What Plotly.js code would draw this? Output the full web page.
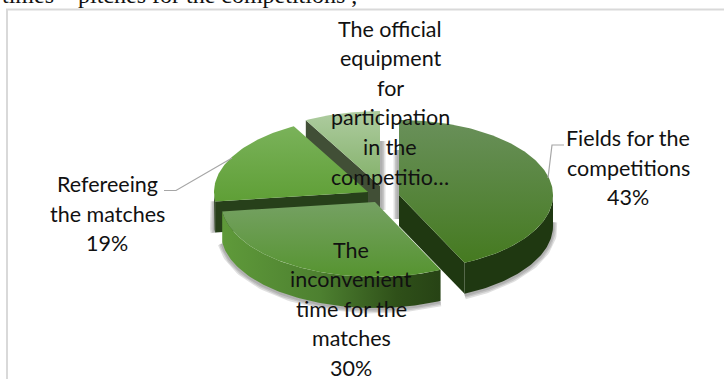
<!DOCTYPE html>
<html>
<head>
<meta charset="utf-8">
<script src="https://cdn.plot.ly/plotly-3.0.1.min.js"></script>
<style>html,body{margin:0;padding:0;background:#fff}#chart{width:724px;height:379px}</style>
</head>
<body>
<div id="chart"></div>
<script>
// Survey shares, clockwise from twelve o'clock
const sliceNames = ['Fields', 'Time', 'Referees', 'Equipment'];
const shares = [43, 30, 19, 8];

// Wrapped label text for each slice
const fieldLines = ['Fields for the', 'competitions'];
const timeLines = ['The', 'inconvenient', 'time for the', 'matches'];
const refereeLines = ['Refereeing', 'the matches'];
const equipmentLines = ['The official', 'equipment', 'for', 'participation', 'in the', 'competitio…'];
const headingText = 'times – pitches for the competitions ,';

// Pie proportions on the page
const RX = 154, RY = 75, DEPTH = 31;
const hubs = [[399, 195], [375, 202], [368, 192], [380, 186]];
const topFills = [
  ['#69905a', '#457a20'], ['#75a163', '#569430'],
  ['#7ab25a', '#5f9f36'], ['#aecca0', '#82b068']
];
const wallFill = ['#1f3811', '#263f14', '#27401a', '#414f36'];

// Angle of each slice boundary in radians, measured clockwise from the top
const total = shares.reduce((a, b) => a + b, 0);
let run = 0;
const bounds = shares.map(v => { const s = run; run += v; return [s / total * 2 * Math.PI, run / total * 2 * Math.PI]; });

function rim(hub, a, dy) {
  return [hub[0] + RX * Math.sin(a), hub[1] - RY * Math.cos(a) + (dy || 0)];
}
function arc(hub, a0, a1, dy) {
  const pts = [];
  const steps = Math.max(2, Math.ceil(Math.abs(a1 - a0) / 0.02));
  for (let i = 0; i <= steps; i++) pts.push(rim(hub, a0 + (a1 - a0) * i / steps, dy));
  return pts;
}
function polygon(pts, fill, gradient) {
  const tr = {
    type: 'scatter', mode: 'lines', fill: 'toself',
    x: pts.map(p => p[0]), y: pts.map(p => p[1]),
    line: { width: 0 }, hoverinfo: 'skip', showlegend: false
  };
  if (gradient) tr.fillgradient = gradient; else tr.fillcolor = fill;
  return tr;
}
function softEdge(pts) {
  return [9, 6, 3].map(w => ({
    type: 'scatter', mode: 'lines', x: pts.map(p => p[0]), y: pts.map(p => p[1]),
    line: { width: w, color: 'rgba(60,60,60,0.16)' }, hoverinfo: 'skip', showlegend: false
  }));
}
function vertical(c) {
  return { type: 'vertical', colorscale: [[0, c[1]], [1, c[0]]] };
}

// Extruded side of a slice: its cut edge and the part of its rim facing the viewer
function cutWall(i, a) {
  const h = hubs[i], e = rim(h, a);
  return polygon([h, e, [e[0], e[1] + DEPTH], [h[0], h[1] + DEPTH]], wallFill[i]);
}
function rimWall(i, a0, a1, gradient) {
  const h = hubs[i];
  return polygon(arc(h, a0, a1).concat(arc(h, a1, a0, DEPTH)), wallFill[i], gradient);
}
function topFace(i) {
  return polygon([hubs[i]].concat(arc(hubs[i], bounds[i][0], bounds[i][1])), null, vertical(topFills[i]));
}

const traces = [];
// soft shadow beneath the outer rims and beside the central gap
traces.push(...softEdge(arc(hubs[0], Math.PI * 0.48, bounds[0][1], DEPTH + 1)));
traces.push(...softEdge(arc(hubs[1], bounds[1][0], bounds[1][1], DEPTH + 1)));
traces.push(...softEdge(arc(hubs[2], bounds[2][0], bounds[2][0] + 0.05, DEPTH).concat([rim(hubs[2], bounds[2][0], 0)])));
traces.push(...softEdge([[hubs[3][0] + 1, hubs[3][1] - 45], [hubs[3][0] + 1, hubs[3][1] + 24]]));
traces.push(...softEdge([[hubs[0][0] - 1, hubs[0][1] - 45], [hubs[0][0] - 1, hubs[0][1] + 24]]));

// back to front: equipment, referees, fields, time
traces.push(cutWall(3, bounds[3][0]), topFace(3));
traces.push(cutWall(2, bounds[2][0]), rimWall(2, bounds[2][0], bounds[2][0] + 0.13), topFace(2));
traces.push(cutWall(0, bounds[0][1]), rimWall(0, Math.PI / 2, bounds[0][1]), topFace(0));
traces.push(rimWall(1, bounds[1][0], bounds[1][1], {
  type: 'horizontal', colorscale: [[0, '#5f9a3a'], [0.45, '#4d8030'], [0.8, '#2f5019'], [1, '#274315']]
}), topFace(1));

// leader lines
const leader = (xs, ys) => ({
  type: 'scatter', mode: 'lines', x: xs, y: ys,
  line: { width: 1.2, color: '#a6a6a6' }, hoverinfo: 'skip', showlegend: false
});
traces.push(leader([164, 176, 232], [190.5, 190.5, 158]));
traces.push(leader([564, 552, 548], [145, 145, 178]));

// one annotation per text line, so the wide line spacing can be kept
const FONT = 'Lato, "Open Sans", sans-serif';
const STEP = 29.6;
function labelBlock(lines, cx, firstY) {
  return lines.map((t, k) => ({
    text: t, x: cx, y: firstY + k * STEP, xref: 'x', yref: 'y', showarrow: false,
    xanchor: 'center', yanchor: 'middle',
    font: { family: FONT, size: 21.5, color: '#111' }
  }));
}
const annotations = [
  ...labelBlock(fieldLines.concat(shares[0] + '%'), 628, 138),
  ...labelBlock(timeLines.concat(shares[1] + '%'), 351, 249.5),
  ...labelBlock(refereeLines.concat(shares[2] + '%'), 107, 184),
  ...labelBlock(equipmentLines, 390, 28.5),
  { text: headingText, x: 0, y: 0, xref: 'x', yref: 'y', showarrow: false, xanchor: 'left', yanchor: 'middle', yshift: 5,
    font: { family: '"Liberation Serif", serif', size: 24, color: '#111' } }
];

const layout = {
  width: 724, height: 379, margin: { l: 0, r: 0, t: 0, b: 0 },
  paper_bgcolor: '#fff', plot_bgcolor: '#fff', showlegend: false,
  xaxis: { range: [0, 724], visible: false, fixedrange: true },
  yaxis: { range: [379, 0], visible: false, fixedrange: true },
  annotations,
  shapes: [
    { type: 'line', xref: 'x', yref: 'y', x0: 6, x1: 724, y0: 9.5, y1: 9.5, line: { color: '#d9d9d9', width: 2 } },
    { type: 'line', xref: 'x', yref: 'y', x0: 7, x1: 7, y0: 9, y1: 379, line: { color: '#d9d9d9', width: 2 } }
  ]
};
Plotly.newPlot('chart', traces, layout, { displayModeBar: false, staticPlot: true });
</script>
</body>
</html>
